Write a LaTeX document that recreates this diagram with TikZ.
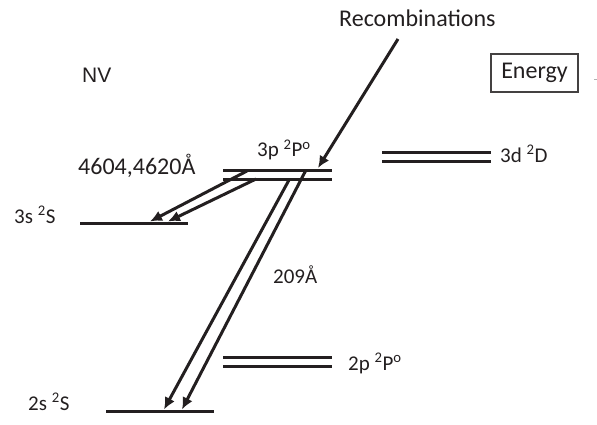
\documentclass[tikz,border=0pt]{standalone}
\usepackage{fontspec}
\setmainfont{Carlito}
\newfontfamily\nvfont{Liberation Sans}
\usetikzlibrary{arrows.meta}
\definecolor{ink}{HTML}{231F20}
\begin{document}
\begin{tikzpicture}[x=1pt,y=-1pt,
  level/.style={line width=3pt,draw=ink},
  trans/.style={line width=3pt,draw=ink,-{Latex[length=12pt,width=11pt]}},
  big/.style={font=\fontsize{24}{28}\selectfont},
  small/.style={font=\fontsize{21}{25}\selectfont},
  lab/.style={inner sep=0pt,anchor=base west,text=ink}]
\useasboundingbox (0,0) rectangle (597,425);

% energy levels (two fine-structure lines where split)
\coordinate (p3a) at (223,170); \coordinate (p3b) at (332,170);
\coordinate (p3c) at (223,179); \coordinate (p3d) at (332,179);
\coordinate (d3a) at (382,152.5); \coordinate (d3b) at (491,152.5);
\coordinate (d3c) at (382,161.5); \coordinate (d3d) at (491,161.5);
\coordinate (s3a) at (80,223); \coordinate (s3b) at (188,223);
\coordinate (p2a) at (223,357); \coordinate (p2b) at (332,357);
\coordinate (p2c) at (223,366.5); \coordinate (p2d) at (332,366.5);
\coordinate (s2a) at (106,411); \coordinate (s2b) at (214,411);

\draw[level] (p3a) -- (p3b);
\draw[level] (p3c) -- (p3d);
\draw[level] (d3a) -- (d3b);
\draw[level] (d3c) -- (d3d);
\draw[level] (s3a) -- (s3b);
\draw[level] (p2a) -- (p2b);
\draw[level] (p2c) -- (p2d);
\draw[level] (s2a) -- (s2b);

% labels
\node[lab,big] (rec) at (339,27) {Recombinations};
\node[lab,font=\nvfont\fontsize{21}{25}\selectfont] (nv) at (82,83) {NV};
\node[draw=ink!85,line width=1.2pt,minimum width=87pt,minimum height=38pt,
      inner sep=0pt,text=ink,big] (energy) at (534.5,73) {Energy};
\node[lab,big] (wl1) at (78,175) {4604,4620Å};
\node[lab,small] (l3p) at (257,157) {3p \textsuperscript{2}P\textsuperscript{o}};
\node[lab,small] (l3d) at (500,162) {3d \textsuperscript{2}D};
\node[lab,small] (l3s) at (14,223) {3s \textsuperscript{2}S};
\node[lab,small] (wl2) at (273,283) {209Å};
\node[lab,small] (l2p) at (348,370) {2p \textsuperscript{2}P\textsuperscript{o}};
\node[lab,small] (l2s) at (28,410) {2s \textsuperscript{2}S};

% transitions
\coordinate (recstart) at (398,39);
\coordinate (recend) at (318,168);
\draw[trans] (recstart) -- (recend);

\coordinate (t1s) at (247,171); \coordinate (t1e) at (150,221.5);
\coordinate (t2s) at (256,179); \coordinate (t2e) at (168,221.5);
\draw[trans] (t1s) -- (t1e);
\draw[trans] (t2s) -- (t2e);

\coordinate (t3s) at (289,180); \coordinate (t3e) at (164,409.5);
\coordinate (t4s) at (306,170); \coordinate (t4e) at (182,409.5);
\draw[trans] (t3s) -- (t3e);
\draw[trans] (t4s) -- (t4e);

% stub at the right edge
\coordinate (stubA) at (594,79); \coordinate (stubB) at (597,79);
\draw[gray!60,line width=0.8pt] (stubA) -- (stubB);
\end{tikzpicture}
\end{document}
